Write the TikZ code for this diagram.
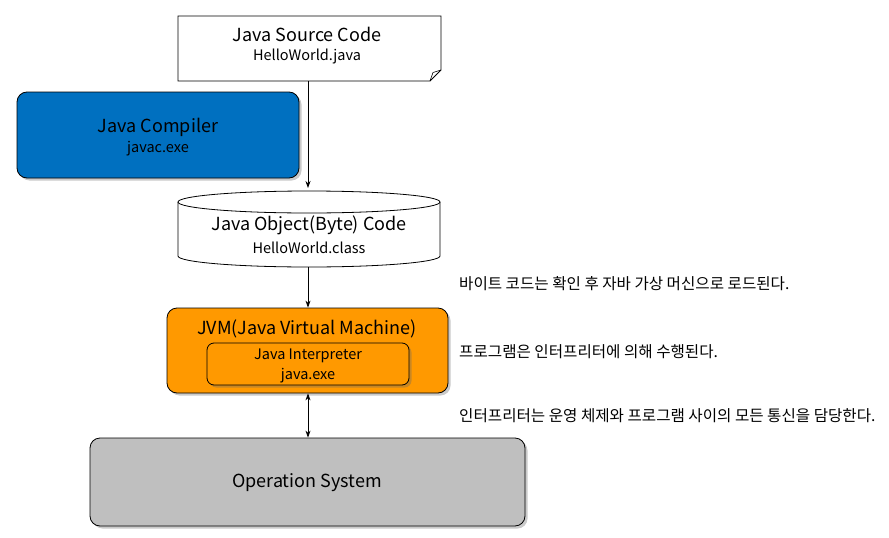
\documentclass[tikz,border=0pt]{standalone}
\usepackage{fontspec}
\setmainfont{Noto Sans CJK KR}
\usetikzlibrary{shadows,arrows.meta,calc}
\definecolor{compblue}{HTML}{0070C0}
\definecolor{jvmorange}{HTML}{FF9900}
\definecolor{osgray}{HTML}{BFBFBF}
\begin{document}
\begin{tikzpicture}[x=1pt,y=-1pt,
  box/.style={draw=black, line width=0.8pt, rounded corners=10pt, align=center, inner sep=0pt,
    drop shadow={shadow xshift=2.5pt, shadow yshift=-2.5pt, opacity=0.35, fill=black!60}},
  txt/.style={align=center, inner sep=0pt},
  note/.style={anchor=west, inner sep=0pt, font=\fontsize{15.6}{18}\selectfont},
  arr/.style={line width=0.8pt, -{Stealth[length=7pt,width=5pt]}},
  darr/.style={line width=0.8pt, {Stealth[length=7pt,width=5pt]}-{Stealth[length=7pt,width=5pt]}},
  big/.style={font=\fontsize{18}{21}\selectfont},
  small/.style={font=\fontsize{14.5}{17}\selectfont}
]
\useasboundingbox (0,0) rectangle (889,538);
% Source document
\draw[line width=0.8pt, fill=white] (178,16) -- (441,16) -- (441,70) -- (430,81) -- (178,81) -- cycle;
\draw[line width=0.6pt] (441,70) -- (433,72.5) -- (430,81);
\node[txt, minimum width=263pt, minimum height=65pt] (src) at (309.5,48.5) {};
\node[txt, big] at (307,34.5) {Java Source Code};
\node[txt, small] at (307,56.5) {HelloWorld.java};
% Compiler
\node[box, fill=compblue, minimum width=282pt, minimum height=86pt] (comp) at (158,135) {};
\node[txt, big] at (158,127.5) {Java Compiler};
\node[txt, small] at (158,148.5) {javac.exe};
% Cylinder
\node[txt, minimum width=262pt, minimum height=76pt] (obj) at (309,229) {};
\draw[line width=0.8pt, fill=white] (178,202) -- (178,256) arc[start angle=180, end angle=360, x radius=131pt, y radius=11pt] -- (440,202);
\draw[line width=0.8pt, fill=white] (309,202) ellipse[x radius=131pt, y radius=11pt];
\node[txt, big] at (309,225.5) {Java Object(Byte) Code};
\node[txt, small] at (309,247.5) {HelloWorld.class};
% JVM
\node[box, fill=jvmorange, minimum width=281pt, minimum height=85pt] (jvm) at (307.5,350.5) {};
\node[txt, big] at (307,328.5) {JVM(Java Virtual Machine)};
\node[box, fill=jvmorange, rounded corners=7pt, minimum width=202pt, minimum height=42pt] (interp) at (308,364) {};
\node[txt, small] at (308,356) {Java Interpreter};
\node[txt, small] at (308,376) {java.exe};
% OS
\node[box, fill=osgray, minimum width=435pt, minimum height=88pt] (os) at (307.5,482) {};
\node[txt, big] at (307,483) {Operation System};
% connectors
\draw[arr] (src.south -| 308,0) -- (308,188);
\draw[arr] (308,267) -- (jvm.north -| 308,0);
\draw[darr] (jvm.south -| 308,0) -- (os.north -| 308,0);
% notes
\node[note] (n1) at (459,284) {바이트 코드는 확인 후 자바 가상 머신으로 로드된다.};
\node[note] (n2) at (459,352) {프로그램은 인터프리터에 의해 수행된다.};
\node[note] (n3) at (459,416) {인터프리터는 운영 체제와 프로그램 사이의 모든 통신을 담당한다.};
\end{tikzpicture}
\end{document}
